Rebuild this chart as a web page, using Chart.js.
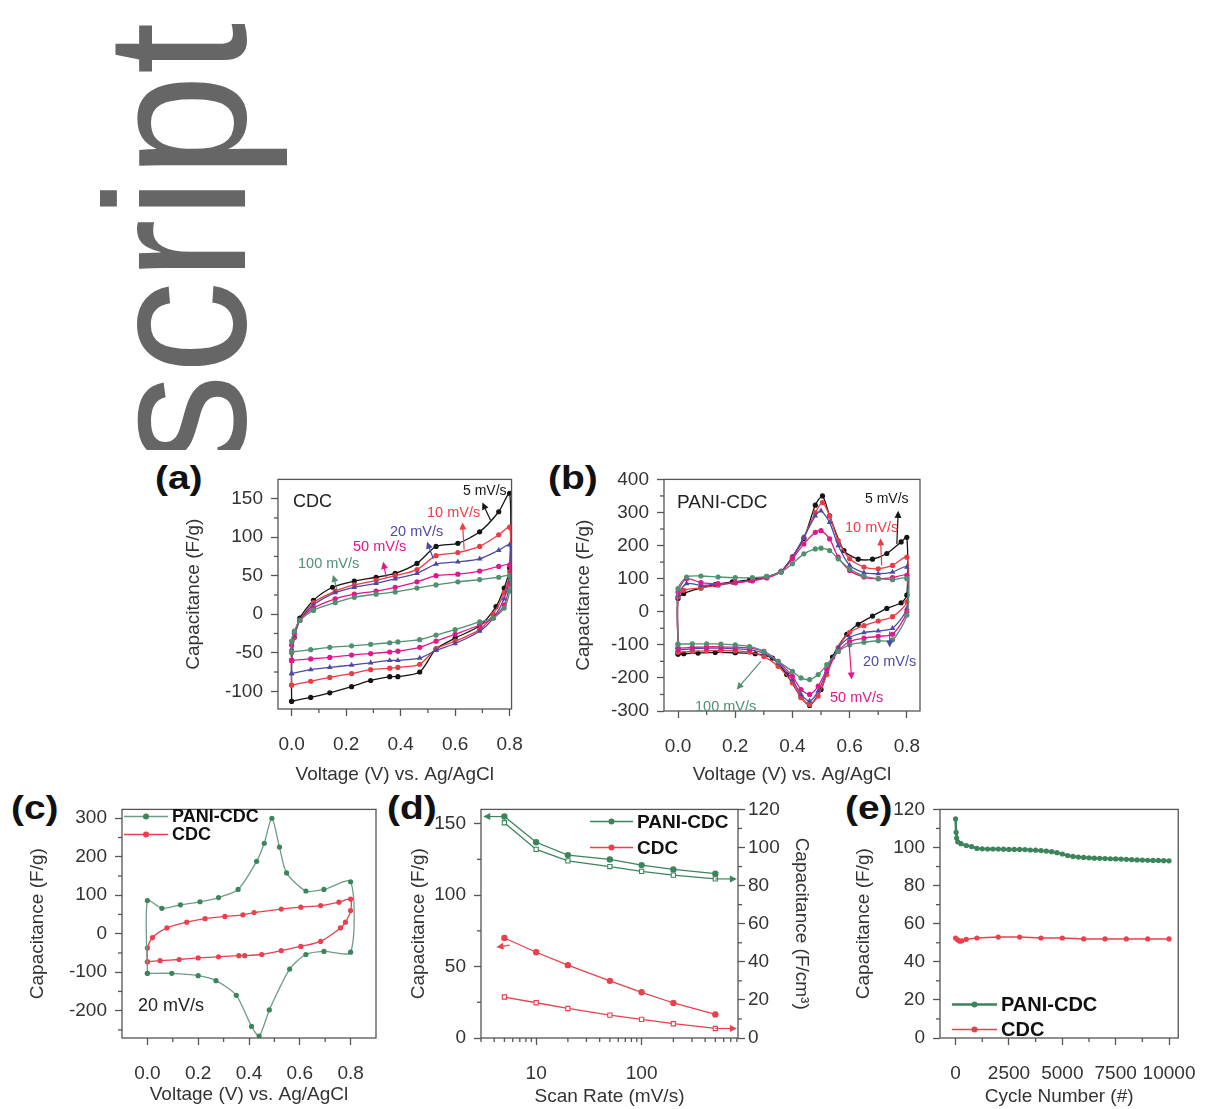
<!DOCTYPE html>
<html>
<head>
<meta charset="utf-8">
<script src="https://cdn.jsdelivr.net/npm/chart.js@4.4.0/dist/chart.umd.min.js"></script>
<style>
  body { margin: 0; background: #fff; width: 1213px; height: 1109px; position: relative; overflow: hidden;
         font-family: "Liberation Sans", Arial, sans-serif; }
  canvas { position: absolute; }
  .tag { position: absolute; font-weight: bold; font-size: 33px; line-height: 33px; color: #111;
         transform-origin: 0 0; transform: scaleX(1.18); }
  #wm { position: absolute; left: 0; top: 0; width: 300px; height: 450px; overflow: hidden; }
  #wm span { position: absolute; left: 76px; top: 467px; transform-origin: 0 0;
             transform: rotate(-90deg) scaleX(0.93); font-size: 200px; line-height: 200px;
             color: #666; white-space: nowrap; }
</style>
</head>
<body>
<div id="wm"><span>script</span></div>
<div class="tag" style="left:155px;top:461px">(a)</div>
<div class="tag" style="left:548px;top:461px">(b)</div>
<div class="tag" style="left:11px;top:791px">(c)</div>
<div class="tag" style="left:387px;top:791px">(d)</div>
<div class="tag" style="left:845px;top:791px">(e)</div>
<canvas id="ca"></canvas>
<canvas id="cb"></canvas>
<canvas id="cc"></canvas>
<canvas id="cd"></canvas>
<canvas id="ce"></canvas>
<script>
// tick labels
const voltTicks = [0, 0.2, 0.4, 0.6, 0.8];
const cdcTicksY = [-100, -50, 0, 50, 100, 150];
const paniTicksY = [-300, -200, -100, 0, 100, 200, 300, 400];
const compTicksY = [-200, -100, 0, 100, 200, 300];
const rateTicks = [10, 100];
const gravTicks = [0, 50, 100, 150];
const volTicks = [0, 20, 40, 60, 80, 100, 120];
const cycleTicks = [0, 2500, 5000, 7500, 10000];
const retTicks = [0, 20, 40, 60, 80, 100, 120];

const rateNames = ['5 mV/s', '10 mV/s', '20 mV/s', '50 mV/s', '100 mV/s'];

// (a) CDC, [V, F/g]
const cdc5 = [[0,-113],[0,-60],[0.01,-30],[0.03,-5],[0.08,18],[0.15,35],[0.23,43],[0.31,48],[0.38,53],[0.46,66],[0.53,88],[0.61,92],[0.69,107],[0.76,133],[0.8,157],[0.8,60],[0.78,34],[0.75,10],[0.69,-15],[0.6,-31],[0.53,-45],[0.47,-75],[0.39,-81],[0.36,-81],[0.29,-86],[0.22,-94],[0.14,-102],[0.07,-108],[0,-113]];
const cdc10 = [[0,-92],[0,-50],[0.01,-30],[0.03,-8],[0.08,15],[0.16,30],[0.23,38],[0.31,44],[0.38,50],[0.46,58],[0.53,76],[0.61,80],[0.69,88],[0.76,103],[0.8,113],[0.8,55],[0.78,28],[0.74,0],[0.69,-20],[0.6,-35],[0.53,-45],[0.47,-65],[0.39,-69],[0.36,-70],[0.29,-72],[0.22,-77],[0.14,-82],[0.07,-87],[0,-92]];
const cdc20 = [[0,-77],[0,-45],[0.01,-28],[0.03,-8],[0.08,12],[0.16,28],[0.23,35],[0.31,40],[0.38,46],[0.46,53],[0.53,65],[0.61,68],[0.69,72],[0.76,83],[0.8,90],[0.8,50],[0.78,20],[0.74,-5],[0.69,-22],[0.6,-38],[0.53,-47],[0.47,-57],[0.39,-60],[0.36,-60],[0.29,-63],[0.22,-66],[0.14,-69],[0.07,-72],[0,-77]];
const cdc50 = [[0,-60],[0,-40],[0.01,-25],[0.03,-8],[0.08,8],[0.16,20],[0.23,26],[0.31,30],[0.38,35],[0.46,42],[0.53,50],[0.61,52],[0.69,56],[0.76,62],[0.8,64],[0.8,40],[0.78,12],[0.74,-5],[0.69,-14],[0.6,-26],[0.53,-35],[0.47,-43],[0.39,-48],[0.36,-49],[0.29,-51],[0.22,-53],[0.14,-56],[0.07,-58],[0,-60]];
const cdc100 = [[0,-49],[0,-35],[0.01,-22],[0.03,-8],[0.08,5],[0.16,15],[0.23,22],[0.31,26],[0.38,29],[0.46,34],[0.53,38],[0.61,42],[0.69,45],[0.76,48],[0.8,50],[0.8,30],[0.78,8],[0.74,-5],[0.69,-10],[0.6,-20],[0.53,-27],[0.47,-33],[0.39,-36],[0.36,-37],[0.29,-39],[0.22,-41],[0.14,-43],[0.07,-46],[0,-49]];

// (b) PANI-CDC, [V, F/g]
const pani5 = [[0,-128],[0,40],[0.02,55],[0.08,72],[0.13,82],[0.19,90],[0.25,96],[0.31,106],[0.36,121],[0.4,166],[0.44,221],[0.48,322],[0.505,350],[0.53,290],[0.58,185],[0.63,159],[0.68,159],[0.73,176],[0.78,211],[0.8,225],[0.8,50],[0.78,27],[0.73,10],[0.68,-13],[0.63,-38],[0.59,-68],[0.54,-137],[0.5,-235],[0.46,-283],[0.43,-258],[0.38,-190],[0.33,-140],[0.27,-127],[0.2,-124],[0.13,-123],[0.07,-125],[0.02,-127],[0,-128]];
const pani10 = [[0,-122],[0,45],[0.02,65],[0.08,72],[0.14,80],[0.2,88],[0.26,95],[0.31,105],[0.36,122],[0.4,165],[0.44,225],[0.48,300],[0.505,330],[0.53,290],[0.56,215],[0.6,160],[0.65,135],[0.7,130],[0.75,140],[0.8,165],[0.8,30],[0.75,-15],[0.7,-28],[0.65,-42],[0.6,-62],[0.56,-108],[0.52,-190],[0.49,-255],[0.46,-280],[0.43,-260],[0.4,-215],[0.35,-165],[0.3,-135],[0.25,-122],[0.2,-118],[0.15,-117],[0.1,-118],[0.05,-120],[0,-122]];
const pani20 = [[0,-115],[0,50],[0.03,85],[0.08,80],[0.14,83],[0.2,88],[0.26,95],[0.31,105],[0.36,122],[0.4,165],[0.44,225],[0.48,290],[0.5,305],[0.53,270],[0.56,200],[0.6,140],[0.65,118],[0.7,115],[0.75,120],[0.8,135],[0.8,10],[0.75,-50],[0.7,-58],[0.65,-63],[0.6,-78],[0.56,-110],[0.52,-180],[0.49,-240],[0.46,-270],[0.43,-250],[0.4,-205],[0.35,-155],[0.3,-125],[0.25,-115],[0.2,-112],[0.15,-110],[0.1,-110],[0.05,-112],[0,-115]];
const pani50 = [[0,-110],[0,60],[0.03,100],[0.08,88],[0.14,85],[0.2,88],[0.26,93],[0.31,102],[0.36,120],[0.4,160],[0.44,205],[0.48,240],[0.5,245],[0.53,220],[0.56,165],[0.6,125],[0.65,105],[0.7,100],[0.75,103],[0.8,110],[0.8,0],[0.75,-68],[0.7,-74],[0.65,-80],[0.6,-90],[0.56,-120],[0.52,-175],[0.49,-225],[0.46,-250],[0.43,-235],[0.4,-195],[0.35,-150],[0.3,-120],[0.25,-110],[0.2,-107],[0.15,-106],[0.1,-106],[0.05,-108],[0,-110]];
const pani100 = [[0,-98],[0,70],[0.03,105],[0.08,108],[0.14,105],[0.2,103],[0.26,103],[0.31,107],[0.36,120],[0.4,145],[0.44,175],[0.48,190],[0.5,192],[0.53,185],[0.56,160],[0.6,130],[0.65,108],[0.7,100],[0.75,97],[0.8,100],[0.8,-10],[0.75,-85],[0.7,-88],[0.65,-92],[0.6,-100],[0.56,-120],[0.52,-160],[0.49,-190],[0.46,-205],[0.43,-200],[0.4,-180],[0.35,-150],[0.3,-120],[0.25,-105],[0.2,-100],[0.15,-98],[0.1,-97],[0.05,-97],[0,-98]];

// (c) 20 mV/s comparison
const paniCv20 = [[0,-103],[0,86],[0.057,66],[0.13,75],[0.207,83],[0.28,94],[0.357,115],[0.43,188],[0.46,235],[0.49,300],[0.52,225],[0.548,158],[0.624,111],[0.695,115],[0.8,135],[0.8,-48],[0.695,-46],[0.624,-54],[0.56,-92],[0.48,-198],[0.44,-266],[0.41,-241],[0.35,-160],[0.27,-122],[0.2,-109],[0.096,-103],[0,-103]];
const cdcCv20 = [[0,-73],[0,-37],[0.02,-10],[0.077,15],[0.155,30],[0.227,39],[0.305,45],[0.376,49],[0.42,55],[0.527,64],[0.604,69],[0.682,73],[0.754,82],[0.8,90],[0.8,60],[0.78,30],[0.76,15],[0.682,-20],[0.604,-33],[0.527,-44],[0.45,-54],[0.383,-57],[0.36,-57],[0.28,-60],[0.2,-63],[0.125,-67],[0.05,-70],[0,-73]];

// (d) rate capability
const scanRates = [5, 10, 20, 50, 100, 200, 500];
const paniGrav = [155, 137, 128, 125, 121, 118, 115];
const paniVol = [113, 99, 93, 90, 87.5, 85.5, 83.5];
const cdcGrav = [70, 60, 51, 40, 32, 24.5, 16.5];
const cdcVol = [21.5, 18.5, 15.5, 12, 9.8, 7.5, 5];

// (e) cycling
const paniCycles = [0,25,50,100,250,500,750,1000,1250,1500,1750,2000,2250,2500,2750,3000,3250,3500,3750,4000,4250,4500,4750,5000,5250,5500,5750,6000,6250,6500,6750,7000,7250,7500,7750,8000,8250,8500,8750,9000,9250,9500,9750,10000];
const paniRet = [115,108,105,103,102,101,100.5,99.5,99.3,99.2,99.2,99.2,99.1,99,99,99,98.9,98.7,98.6,98.4,98.1,97.8,97.3,96.6,95.8,95.3,95,94.8,94.6,94.4,94.3,94.2,94.1,94,93.9,93.8,93.6,93.5,93.4,93.3,93.2,93.2,93.1,93];
const cdcCycles = [0,100,200,300,500,1000,2000,3000,4000,5000,6000,7000,8000,9000,10000];
const cdcRet = [52.5,51.5,50.8,51,51.8,52.5,53,53,52.5,52.5,52,52,52,52,52];

const BLACK = '#151515', RED = '#ec3b45', BLUE = '#4b4ba6', MAG = '#e3178c', GREEN = '#4f9070';
const DGREEN = '#3c855c', DRED = '#e8404e';
const FONT = '"Liberation Sans", Arial, sans-serif';
Chart.defaults.font.family = FONT;

// draws the frame, minor ticks, notes, arrows and legends
const deco = {
    id: 'deco',
    afterDraw: function (chart, args, o) {
        const ctx = chart.ctx, a = chart.chartArea;
        ctx.save();
        ctx.strokeStyle = '#555';
        ctx.lineWidth = 1.3;
        ctx.strokeRect(a.left, a.top, a.right - a.left, a.bottom - a.top);
        (o.minor || []).forEach(function (m) {
            const s = chart.scales[m.axis];
            m.values.forEach(function (v) {
                const p = s.getPixelForValue(v);
                ctx.beginPath();
                if (s.isHorizontal()) { ctx.moveTo(p, a.bottom); ctx.lineTo(p, a.bottom + 4); }
                else if (s.position === 'left') { ctx.moveTo(a.left, p); ctx.lineTo(a.left - 4, p); }
                else { ctx.moveTo(a.right, p); ctx.lineTo(a.right + 4, p); }
                ctx.stroke();
            });
        });
        (o.arrows || []).forEach(function (ar) {
            const sx = chart.scales.x, sy = chart.scales[ar.axis || 'y'];
            const x1 = sx.getPixelForValue(ar.from[0]), y1 = sy.getPixelForValue(ar.from[1]);
            const x2 = sx.getPixelForValue(ar.to[0]), y2 = sy.getPixelForValue(ar.to[1]);
            const ang = Math.atan2(y2 - y1, x2 - x1), h = 7, w = 3.5;
            ctx.strokeStyle = ar.color; ctx.fillStyle = ar.color; ctx.lineWidth = 1.2;
            ctx.beginPath(); ctx.moveTo(x1, y1); ctx.lineTo(x2 - Math.cos(ang) * 4, y2 - Math.sin(ang) * 4); ctx.stroke();
            ctx.beginPath();
            ctx.moveTo(x2, y2);
            ctx.lineTo(x2 - h * Math.cos(ang) + w * Math.sin(ang), y2 - h * Math.sin(ang) - w * Math.cos(ang));
            ctx.lineTo(x2 - h * Math.cos(ang) - w * Math.sin(ang), y2 - h * Math.sin(ang) + w * Math.cos(ang));
            ctx.closePath(); ctx.fill();
        });
        ctx.textBaseline = 'middle';
        ctx.textAlign = 'left';
        (o.notes || []).forEach(function (n) {
            ctx.fillStyle = n.color || '#222';
            ctx.font = (n.bold ? 'bold ' : '') + n.size + 'px ' + FONT;
            ctx.fillText(n.text, a.left + n.dx, a.top + n.dy);
        });
        if (o.legend) {
            const L = o.legend;
            L.items.forEach(function (it, i) {
                const x = a.left + L.dx, y = a.top + L.dy + i * L.step;
                ctx.strokeStyle = it.color; ctx.lineWidth = it.width || 1.5;
                ctx.beginPath(); ctx.moveTo(x, y); ctx.lineTo(x + L.len, y); ctx.stroke();
                ctx.fillStyle = it.dot || it.color;
                ctx.beginPath(); ctx.arc(x + L.len / 2, y, 3, 0, Math.PI * 2); ctx.fill();
                ctx.fillStyle = '#111';
                ctx.font = 'bold ' + L.size + 'px ' + FONT;
                ctx.fillText(it.label, x + L.len + 4, y + 1);
            });
        }
        ctx.restore();
    }
};

function axis(pos, type, min, max, ticks, title, size, fmt) {
    return {
        type: type, position: pos, min: min, max: max,
        afterBuildTicks: function (s) { s.ticks = ticks.map(function (v) { return { value: v }; }); },
        afterFit: function (s) { if (s.isHorizontal()) s.height = size; else s.width = size; },
        grid: { drawOnChartArea: false, tickLength: 7, tickColor: '#555', tickWidth: 1.3 },
        border: { display: false },
        ticks: {
            color: '#333', font: { size: 19 }, autoSkip: false, maxRotation: 0,
            padding: pos === 'bottom' ? 17 : (pos === 'right' ? 3 : 8),
            callback: fmt || function (v) { return v; }
        },
        title: { display: true, text: title, color: '#333', font: { size: 19 }, padding: 0 }
    };
}

function make(id, box, plot, datasets, scales, decoOpts, rightW) {
    const c = document.getElementById(id);
    c.width = box.w; c.height = box.h;
    c.style.left = box.x + 'px'; c.style.top = box.y + 'px';
    return new Chart(c, {
        type: 'scatter',
        data: { datasets: datasets },
        options: {
            responsive: false, animation: false,
            layout: { autoPadding: false, padding: { left: 0, bottom: 0, top: plot.t - box.y, right: box.x + box.w - plot.r - (rightW || 0) } },
            plugins: { legend: { display: false }, tooltip: { enabled: false }, deco: decoOpts },
            scales: scales
        },
        plugins: [deco]
    });
}

function pairs(arr) { return arr.map(function (p) { return { x: p[0], y: p[1] }; }); }
function zip(xs, ys) { return xs.map(function (x, i) { return { x: x, y: ys[i] }; }); }

function loop(arr, color, shape) {
    return {
        data: pairs(arr), showLine: true, borderColor: color, backgroundColor: color,
        borderWidth: 1.3, tension: 0.25, pointStyle: shape || 'circle',
        pointRadius: shape === 'triangle' ? 3.3 : 2.6, pointBorderWidth: 0
    };
}

const fmt1 = function (v) { return v.toFixed(1); };
const voltMinor = [{ axis: 'x', values: [0.1, 0.3, 0.5, 0.7] }];

// ---- (a) ----
const boxA = { x: 182, y: 460, w: 358, h: 326 }, plotA = { l: 278, t: 475, r: 520, b: 709 };
make('ca', boxA, plotA,
    [loop(cdc100, GREEN), loop(cdc50, MAG), loop(cdc20, BLUE, 'triangle'), loop(cdc10, RED), loop(cdc5, BLACK)],
    {
        x: axis('bottom', 'linear', -0.05, 0.807, voltTicks, 'Voltage (V) vs. Ag/AgCl', boxA.y + boxA.h - plotA.b, fmt1),
        y: axis('left', 'linear', -123, 175, cdcTicksY, 'Capacitance (F/g)', plotA.l - boxA.x)
    },
    {
        minor: voltMinor.concat([{ axis: 'y', values: [-75, -25, 25, 75, 125] }]),
        notes: [
            { text: 'CDC', dx: 15, dy: 23, size: 18 },
            { text: rateNames[0], dx: 185, dy: 12, size: 14, color: BLACK },
            { text: rateNames[1], dx: 149, dy: 34, size: 14.5, color: RED },
            { text: rateNames[2], dx: 112, dy: 53, size: 14.5, color: BLUE },
            { text: rateNames[3], dx: 75, dy: 68, size: 14.5, color: MAG },
            { text: rateNames[4], dx: 20, dy: 85, size: 14.5, color: GREEN }
        ],
        arrows: [
            { from: [0.73, 122], to: [0.70, 145], color: BLACK },
            { from: [0.633, 84], to: [0.627, 119], color: RED },
            { from: [0.52, 72], to: [0.497, 94], color: BLUE },
            { from: [0.347, 48], to: [0.336, 68], color: MAG },
            { from: [0.166, 33], to: [0.152, 51], color: GREEN }
        ]
    });

// ---- (b) ----
const boxB = { x: 572, y: 460, w: 368, h: 326 }, plotB = { l: 664, t: 475, r: 920, b: 711 };
make('cb', boxB, plotB,
    [loop(pani100, GREEN), loop(pani50, MAG), loop(pani20, BLUE, 'triangle'), loop(pani10, RED), loop(pani5, BLACK)],
    {
        x: axis('bottom', 'linear', -0.049, 0.846, voltTicks, 'Voltage (V) vs. Ag/AgCl', boxB.y + boxB.h - plotB.b, fmt1),
        y: axis('left', 'linear', -300, 400, paniTicksY, 'Capacitance (F/g)', plotB.l - boxB.x)
    },
    {
        minor: voltMinor.concat([{ axis: 'y', values: [-250, -150, -50, 50, 150, 250, 350] }]),
        notes: [
            { text: 'PANI-CDC', dx: 13, dy: 23, size: 19 },
            { text: rateNames[0], dx: 201, dy: 20, size: 14, color: BLACK },
            { text: rateNames[1], dx: 181, dy: 49, size: 14.5, color: RED },
            { text: rateNames[2], dx: 199, dy: 183, size: 14.5, color: BLUE },
            { text: rateNames[3], dx: 166, dy: 219, size: 14.5, color: MAG },
            { text: rateNames[4], dx: 31, dy: 228, size: 14.5, color: GREEN }
        ],
        arrows: [
            { from: [0.765, 205], to: [0.77, 305], color: BLACK },
            { from: [0.712, 140], to: [0.708, 222], color: RED },
            { from: [0.74, -60], to: [0.74, -108], color: BLUE },
            { from: [0.598, -95], to: [0.607, -205], color: MAG },
            { from: [0.29, -150], to: [0.205, -235], color: GREEN }
        ]
    });

// ---- (c) ----
const boxC = { x: 26, y: 790, w: 370, h: 316 }, plotC = { l: 122, t: 805, r: 376, b: 1038 };
const cPani = loop(paniCv20, '#6f9c84');
cPani.backgroundColor = DGREEN;
const cCdc = loop(cdcCv20, DRED);
make('cc', boxC, plotC, [cPani, cCdc],
    {
        x: axis('bottom', 'linear', -0.1, 0.9, voltTicks, 'Voltage (V) vs. Ag/AgCl', boxC.y + boxC.h - plotC.b, fmt1),
        y: axis('left', 'linear', -271, 323, compTicksY, 'Capacitance (F/g)', plotC.l - boxC.x)
    },
    {
        minor: voltMinor.concat([{ axis: 'y', values: [-250, -150, -50, 50, 150, 250] }]),
        notes: [{ text: '20 mV/s', dx: 16, dy: 197, size: 18 }],
        legend: {
            dx: 2, dy: 7, step: 18, len: 44, size: 18,
            items: [{ label: 'PANI-CDC', color: '#6f9c84', dot: DGREEN }, { label: 'CDC', color: DRED }]
        }
    });

// ---- (d) ----
const boxD = { x: 407, y: 790, w: 406, h: 318 }, plotD = { l: 481, t: 805, r: 738, b: 1038 };
function rateSet(ys, color, axisId, open) {
    return {
        data: zip(scanRates, ys), yAxisID: axisId, showLine: true, tension: 0,
        borderColor: color, backgroundColor: open ? '#fff' : color, borderWidth: 1.3,
        pointStyle: open ? 'rect' : 'circle', pointRadius: open ? 3 : 3.2, pointBorderWidth: open ? 1.1 : 0,
        pointBorderColor: color
    };
}
make('cd', boxD, plotD,
    [rateSet(paniGrav, DGREEN, 'y'), rateSet(paniVol, DGREEN, 'y2', true),
     rateSet(cdcGrav, DRED, 'y'), rateSet(cdcVol, DRED, 'y2', true)],
    {
        x: axis('bottom', 'logarithmic', 3, 820, rateTicks, 'Scan Rate (mV/s)', boxD.y + boxD.h - plotD.b),
        y: axis('left', 'linear', 0, 160, gravTicks, 'Capacitance (F/g)', plotD.l - boxD.x),
        y2: axis('right', 'linear', 0, 120, volTicks, 'Capacitance (F/cm\u00b3)', 75)
    },
    {
        minor: [
            { axis: 'x', values: [3, 4, 5, 6, 7, 8, 9, 20, 30, 40, 50, 60, 70, 80, 90, 200, 300, 400, 500, 600, 700, 800] },
            { axis: 'y', values: [25, 75, 125] },
            { axis: 'y2', values: [10, 30, 50, 70, 90, 110] }
        ],
        arrows: [
            { from: [scanRates[0], paniGrav[0]], to: [3.15, paniGrav[0]], color: DGREEN },
            { from: [5.6, 65], to: [4.2, 63.5], color: DRED },
            { from: [scanRates[6], paniVol[6]], to: [800, paniVol[6]], color: DGREEN, axis: 'y2' },
            { from: [scanRates[6], cdcVol[6]], to: [800, cdcVol[6]], color: DRED, axis: 'y2' }
        ],
        legend: {
            dx: 109, dy: 12, step: 26, len: 43, size: 19,
            items: [{ label: 'PANI-CDC', color: DGREEN }, { label: 'CDC', color: DRED }]
        }
    }, 75);

// ---- (e) ----
const boxE = { x: 852, y: 790, w: 361, h: 318 }, plotE = { l: 940, t: 805, r: 1199, b: 1038 };
make('ce', boxE, plotE,
    [
        { data: zip(paniCycles, paniRet), showLine: true, borderColor: DGREEN, backgroundColor: DGREEN,
          borderWidth: 2.5, pointRadius: 2.6, pointBorderWidth: 0, tension: 0 },
        { data: zip(cdcCycles, cdcRet), showLine: true, borderColor: DRED, backgroundColor: DRED,
          borderWidth: 1.4, pointRadius: 2.6, pointBorderWidth: 0, tension: 0 }
    ],
    {
        x: axis('bottom', 'linear', -730, 10431, cycleTicks, 'Cycle Number (#)', boxE.y + boxE.h - plotE.b),
        y: axis('left', 'linear', 0, 120, retTicks, 'Capacitance (F/g)', plotE.l - boxE.x)
    },
    {
        minor: [
            { axis: 'x', values: [1250, 3750, 6250, 8750] },
            { axis: 'y', values: [10, 30, 50, 70, 90, 110] }
        ],
        legend: {
            dx: 12, dy: 195, step: 25, len: 45, size: 20,
            items: [{ label: 'PANI-CDC', color: DGREEN, width: 2.5 }, { label: 'CDC', color: DRED }]
        }
    });
</script>
</body>
</html>
